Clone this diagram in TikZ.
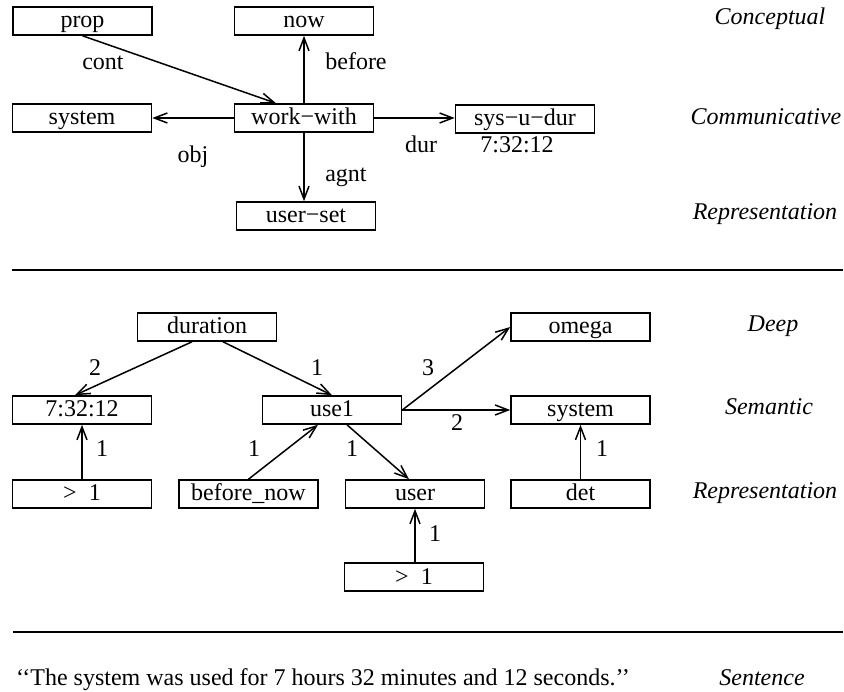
\documentclass[tikz,border=0pt]{standalone}
\usepackage{fontspec}
\setmainfont{Liberation Serif}
\usetikzlibrary{arrows.meta}
\begin{document}
\begin{tikzpicture}[x=1pt,y=-1pt,
  box/.style={draw,line width=1.6pt,minimum width=139pt,minimum height=28pt,inner sep=0pt,
    text height=17pt,text depth=3pt,font=\fontsize{24}{28}\selectfont},
  arr/.style={-{Straight Barb[length=13pt,width=10pt]},line width=1.5pt},
  lab/.style={anchor=base,inner sep=0pt,font=\fontsize{24}{28}\selectfont},
  lvl/.style={anchor=base,inner sep=0pt,font=\fontsize{24}{28}\selectfont\itshape},
  sep/.style={line width=1.8pt}]
\useasboundingbox (0,0) rectangle (844,692);
% ---------- top part ----------
\node[box] (prop) at (82.5,21) {prop};
\node[box] (now) at (304,21) {now};
\node[box] (ww) at (304,118) {work−with};
\node[box] (sys1) at (82,118) {system};
\node[box] (sud) at (525,119) {sys−u−dur};
\node[box] (us) at (306,216) {user−set};
\draw[arr] (prop.south) -- ([xshift=-28pt]ww.north);
\draw[arr] (ww.north) -- (now.south);
\draw[arr] (ww.west) -- (sys1.east);
\draw[arr] (ww.east) -- (ww.east -| sud.west);
\draw[arr] (ww.south) -- (ww.south |- us.north);
\node[lab] (lcont) at (103,70) {cont};
\node[lab] (lbefore) at (356,70) {before};
\node[lab] (lobj) at (193,163) {obj};
\node[lab] (lagnt) at (346,182) {agnt};
\node[lab] (ldur) at (421,153) {dur};
\node[lab] (lval) at (517,153) {7:32:12};
\node[lvl] (conc) at (770,25) {Conceptual};
\node[lvl] (comm) at (766,125) {Communicative};
\node[lvl] (rep1) at (765,220) {Representation};
\coordinate (s1a) at (12,270);
\coordinate (s1b) at (843,270);
\draw[sep] (s1a) -- (s1b);
% ---------- middle part ----------
\node[box] (dur) at (207,327) {duration};
\node[box] (omega) at (580.5,327) {omega};
\node[box] (t732) at (82,410) {7:32:12};
\node[box] (use1) at (332,410) {use1};
\node[box] (sys2) at (580.5,410) {system};
\node[box] (gt1) at (82,494) {>\enspace 1};
\node[box] (bn) at (248.5,494) {before\_now};
\node[box] (user) at (415,494) {user};
\node[box] (det) at (580.5,494) {det};
\node[box] (gt2) at (414,577) {>\enspace 1};
\draw[arr] ([xshift=-15pt]dur.south) -- ([xshift=-7pt]t732.north);
\draw[arr] ([xshift=16pt]dur.south) -- (use1.north);
\draw[arr] (gt1.north) -- (gt1.north |- t732.south);
\draw[arr] (bn.north) -- ([xshift=-14pt]use1.south);
\draw[arr] ([xshift=15pt]use1.south) -- ([xshift=-6pt]user.north);
\draw[arr] (use1.east) -- (omega.west);
\draw[arr] (use1.east) -- (sys2.west);
\draw[arr] (det.north) -- (sys2.south);
\draw[arr] ([xshift=1pt]gt2.north) -- ([xshift=1pt]gt2.north |- user.south);
\node[lab] (n2a) at (95,376) {2};
\node[lab] (n1a) at (317,376) {1};
\node[lab] (n3) at (428,376) {3};
\node[lab] (n2b) at (457,431) {2};
\node[lab] (n1b) at (102,457) {1};
\node[lab] (n1c) at (254,457) {1};
\node[lab] (n1d) at (352,457) {1};
\node[lab] (n1e) at (602,457) {1};
\node[lab] (n1f) at (435,541) {1};
\node[lvl] (deep) at (773,332) {Deep};
\node[lvl] (sem) at (769,415) {Semantic};
\node[lvl] (rep2) at (765,499) {Representation};
\coordinate (s2a) at (13,632);
\coordinate (s2b) at (843,632);
\draw[sep] (s2a) -- (s2b);
% ---------- bottom ----------
\node[lab,anchor=base west] (sent) at (16,685) {{`}{`}The system was used for 7 hours 32 minutes and 12 seconds.{'}{'}};
\node[lvl] (sentl) at (762,685) {Sentence};
\end{tikzpicture}
\end{document}
